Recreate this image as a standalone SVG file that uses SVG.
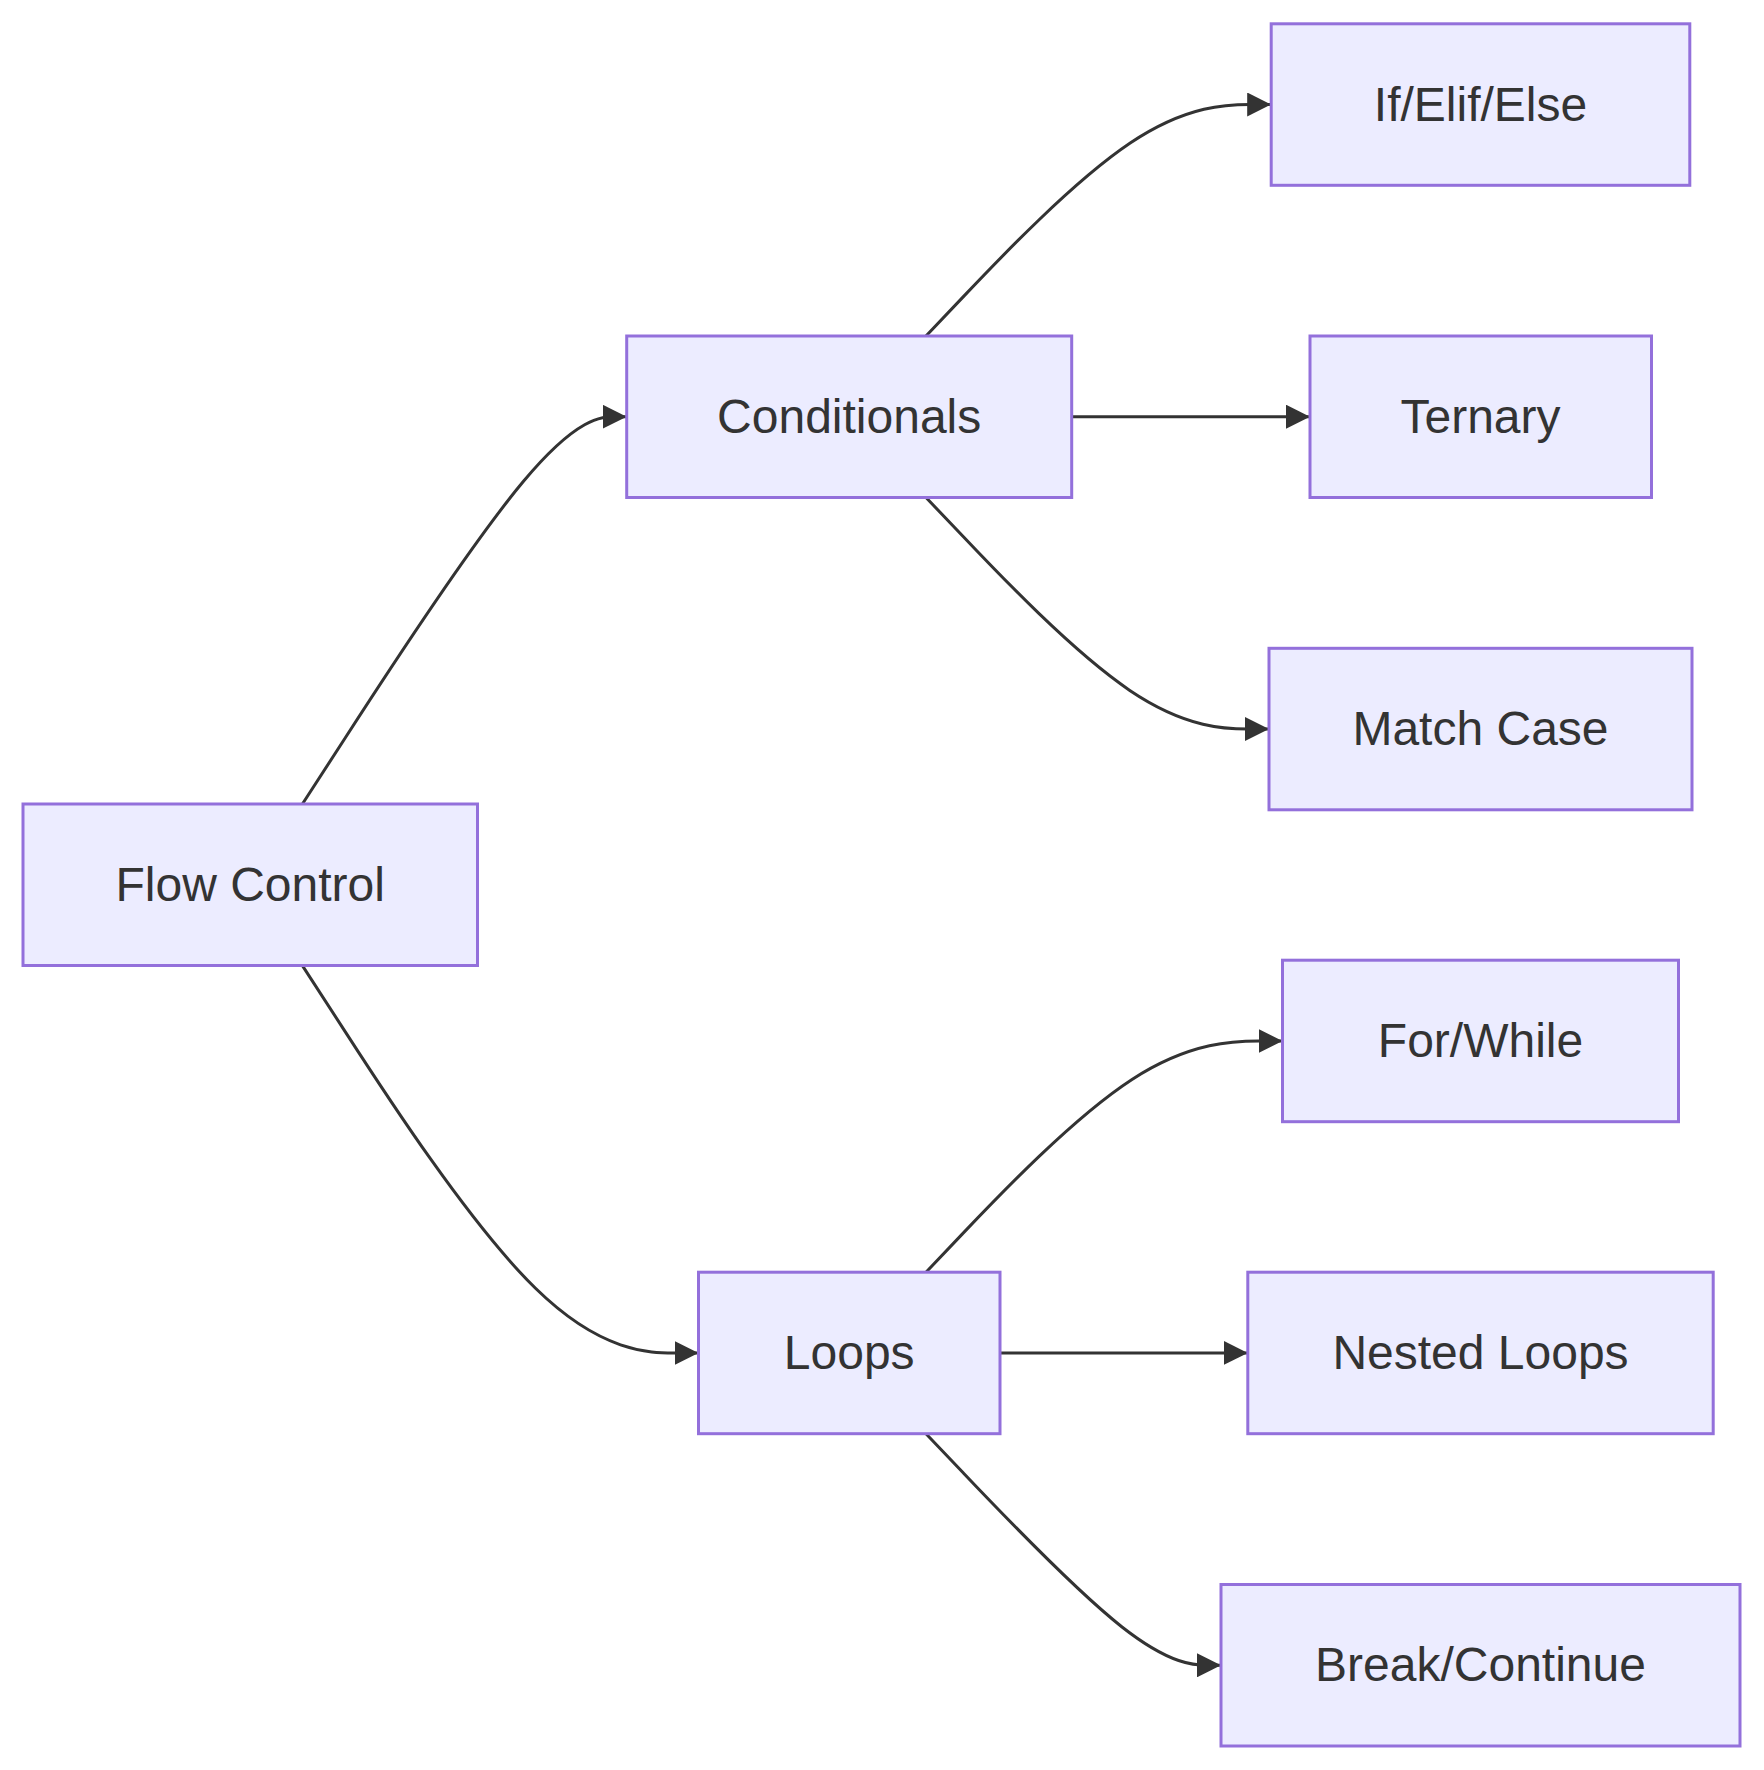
<svg xmlns="http://www.w3.org/2000/svg" width="1764" height="1770" viewBox="0 0 1764 1770">
<style>
.node rect{fill:#ECECFF;stroke:#9370DB;stroke-width:3}
.node text{font-family:"Liberation Sans",Arial,sans-serif;font-size:48px;fill:#333333;text-anchor:middle}
.edge{fill:none;stroke:#333333;stroke-width:3;marker-end:url(#arrow)}
</style>
<defs>
<marker id="arrow" viewBox="0 0 10 10" refX="10" refY="5" markerUnits="userSpaceOnUse" markerWidth="24" markerHeight="24" orient="auto">
<path d="M0,0 L10,5 L0,10 z" fill="#333333"/>
</marker>
</defs>
<rect width="1764" height="1770" fill="#ffffff"/>
<g id="connectors">
<path class="edge" d="M302.4,804 L344.2,739.5 C385.9,674.9 469.5,545.8 523.5,481.3 C577.6,416.7 602.1,416.7 614.4,416.7 L626.7,416.7"/>
<path class="edge" d="M302.4,965.6 L344.2,1030.1 C385.9,1094.7 469.5,1223.8 535.5,1288.3 C601.5,1352.9 650,1352.9 674.3,1352.9 L698.5,1352.9"/>
<path class="edge" d="M926,336 L962.7,297.4 C999.3,258.8 1072.7,181.7 1130.2,143.1 C1187.7,104.5 1229.5,104.5 1250.3,104.5 L1271.2,104.5"/>
<path class="edge" d="M1071.7,416.7 L1310,416.7"/>
<path class="edge" d="M926,497.5 L962.7,536 C999.3,574.6 1072.7,651.8 1129.8,690.4 C1187,729 1228,729 1248.5,729 L1269,729"/>
<path class="edge" d="M926,1272.2 L962.7,1233.6 C999.4,1195.1 1072.7,1118 1132,1079.4 C1191.3,1040.9 1236.7,1040.9 1259.3,1040.9 L1282.5,1040.9"/>
<path class="edge" d="M1000,1352.9 L1247.8,1352.9"/>
<path class="edge" d="M926,1433.7 L962.7,1472.3 C999.4,1510.9 1072.7,1588.1 1121.7,1626.7 C1170.8,1665.3 1195.6,1665.3 1208,1665.3 L1221,1665.3"/>
</g>
<g id="flow-control" class="node">
<rect x="23" y="804" width="454.5" height="161.5"/>
<text x="250.2" y="901">Flow Control</text>
</g>
<g id="conditionals" class="node">
<rect x="626.7" y="336" width="445" height="161.5"/>
<text x="849.2" y="433">Conditionals</text>
</g>
<g id="loops" class="node">
<rect x="698.5" y="1272.2" width="301.5" height="161.5"/>
<text x="849.2" y="1369">Loops</text>
</g>
<g id="if-elif-else" class="node">
<rect x="1271.2" y="23.8" width="418.6" height="161.5"/>
<text x="1480.5" y="121">If/Elif/Else</text>
</g>
<g id="ternary" class="node">
<rect x="1310" y="336" width="341.5" height="161.5"/>
<text x="1480.5" y="433">Ternary</text>
</g>
<g id="match-case" class="node">
<rect x="1269" y="648.3" width="423" height="161.5"/>
<text x="1480.5" y="745">Match Case</text>
</g>
<g id="for-while" class="node">
<rect x="1282.5" y="960.2" width="396" height="161.5"/>
<text x="1480.5" y="1057">For/While</text>
</g>
<g id="nested-loops" class="node">
<rect x="1247.8" y="1272.2" width="465.4" height="161.5"/>
<text x="1480.5" y="1369">Nested Loops</text>
</g>
<g id="break-continue" class="node">
<rect x="1221" y="1584.5" width="519" height="161.5"/>
<text x="1480.5" y="1681">Break/Continue</text>
</g>
</svg>
